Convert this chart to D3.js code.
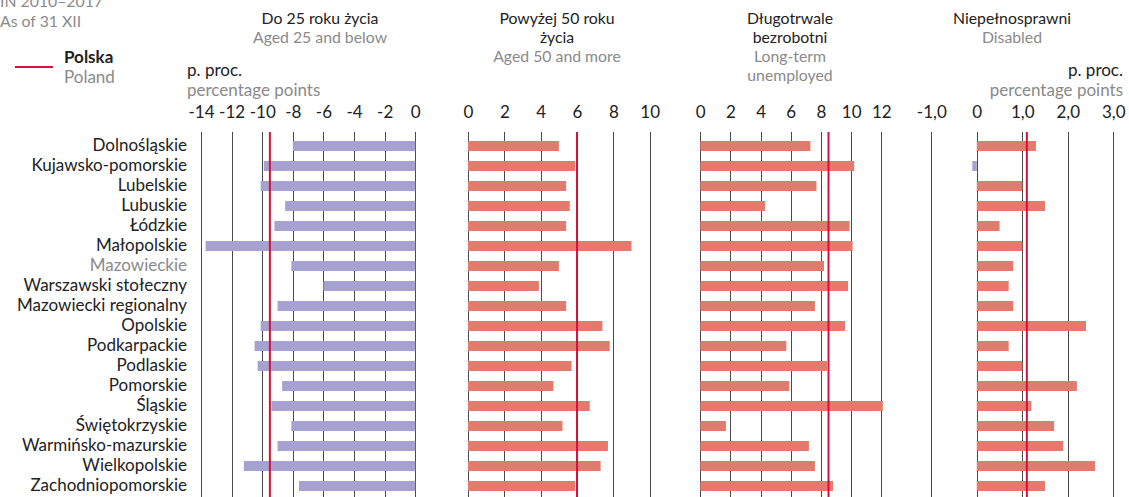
<!DOCTYPE html>
<html>
<head>
<meta charset="utf-8">
<script src="https://cdn.jsdelivr.net/npm/d3@7"></script>
<style>
  html, body { margin: 0; padding: 0; background: #fff; }
  svg { display: block; font-family: Lato, "Open Sans", sans-serif; }
</style>
</head>
<body>
<svg id="chart" width="1129" height="497"></svg>
<script>
const regions = ["Dolnośląskie","Kujawsko-pomorskie","Lubelskie","Lubuskie","Łódzkie","Małopolskie","Mazowieckie","Warszawski stołeczny","Mazowiecki regionalny","Opolskie","Podkarpackie","Podlaskie","Pomorskie","Śląskie","Świętokrzyskie","Warmińsko-mazurskie","Wielkopolskie","Zachodniopomorskie"];
const greyRegions = ["Mazowieckie"];

const aged25 = [-8.0,-9.9,-10.1,-8.5,-9.2,-13.7,-8.1,-6.0,-9.0,-10.1,-10.5,-10.3,-8.7,-9.4,-8.1,-9.0,-11.2,-7.6];
const aged50 = [5.0,5.9,5.4,5.6,5.4,9.0,5.0,3.9,5.4,7.4,7.8,5.7,4.7,6.7,5.2,7.7,7.3,5.9];
const longTerm = [7.3,10.2,7.7,4.3,9.9,10.1,8.2,9.8,7.6,9.6,5.7,8.4,5.9,12.1,1.7,7.2,7.6,8.8];
const disabled = [1.3,-0.1,1.0,1.5,0.5,1.0,0.8,0.7,0.8,2.4,0.7,1.0,2.2,1.2,1.7,1.9,2.6,1.5];
const polandValues = [-9.5, 6.0, 8.5, 1.1];

const ticks25 = [-14,-12,-10,-8,-6,-4,-2,0];
const ticks50 = [0,2,4,6,8,10];
const ticksLong = [0,2,4,6,8,10,12];
const ticksDis = [-1,0,1,2,3];

const titlesPl = [["Do 25 roku życia"],["Powyżej 50 roku","życia"],["Długotrwale","bezrobotni"],["Niepełnosprawni"]];
const titlesEn = [["Aged 25 and below"],["Aged 50 and more"],["Long-term","unemployed"],["Disabled"]];

const colNeg = "#a5a1d1";
const colPos = "#e27a6d";
const colRed = "#d2123b";
const colDark = "#222";
const colGrey = "#8a8a8a";
const fs = 17;
const fsTitle = 15.8;

const svg = d3.select("#chart");

const y = d3.scaleBand().domain(regions).range([136, 496]).paddingInner(0.5).paddingOuter(0.25);
const gridTop = 132, gridBottom = 497;

const panels = [
  {data: aged25, ticks: ticks25, scale: d3.scaleLinear().domain([-14,0]).range([201,415.3]), fmt: d => String(d), titleX: 320},
  {data: aged50, ticks: ticks50, scale: d3.scaleLinear().domain([0,10]).range([468,649.7]), fmt: d => String(d), titleX: 557},
  {data: longTerm, ticks: ticksLong, scale: d3.scaleLinear().domain([0,12]).range([700.3,881.3]), fmt: d => String(d), titleX: 790},
  {data: disabled, ticks: ticksDis, scale: d3.scaleLinear().domain([-1,3]).range([931.3,1113.3]), fmt: d => d === 0 ? "0" : d3.format(".1f")(d).replace(".", ",").replace("−", "-"), titleX: 1012}
];

// top-left note
svg.append("text").attr("x", 0).attr("y", 7).attr("font-size", fsTitle).attr("fill", colGrey).text("IN 2010–2017");
svg.append("text").attr("x", 0).attr("y", 27).attr("font-size", fsTitle).attr("fill", colGrey).text("As of 31 XII");

// legend
svg.append("line").attr("x1", 15).attr("x2", 53).attr("y1", 67).attr("y2", 67).attr("stroke", colRed).attr("stroke-width", 2);
svg.append("text").attr("x", 64).attr("y", 63).attr("font-size", fs).attr("font-weight", "bold").attr("fill", colDark).text("Polska");
svg.append("text").attr("x", 64).attr("y", 83).attr("font-size", fs).attr("fill", colGrey).text("Poland");

// unit labels
svg.append("text").attr("x", 187).attr("y", 76).attr("font-size", fs).attr("fill", colDark).text("p. proc.");
svg.append("text").attr("x", 187).attr("y", 96).attr("font-size", fs).attr("fill", colGrey).text("percentage points");
svg.append("text").attr("x", 1123).attr("y", 76).attr("font-size", fs).attr("text-anchor", "end").attr("fill", colDark).text("p. proc.");
svg.append("text").attr("x", 1123).attr("y", 96).attr("font-size", fs).attr("text-anchor", "end").attr("fill", colGrey).text("percentage points");

// region labels
svg.append("g").selectAll("text").data(regions).join("text")
  .attr("x", 187)
  .attr("y", d => y(d) + y.bandwidth() / 2)
  .attr("dy", "0.3em")
  .attr("text-anchor", "end")
  .attr("font-size", fs)
  .attr("fill", d => greyRegions.includes(d) ? colGrey : colDark)
  .text(d => d);

panels.forEach((p, i) => {
  const g = svg.append("g");
  const x = p.scale;
  // titles
  let ty = 24;
  titlesPl[i].forEach(t => {
    g.append("text").attr("x", p.titleX).attr("y", ty).attr("text-anchor", "middle").attr("font-size", fsTitle).attr("fill", colDark).text(t);
    ty += 19;
  });
  titlesEn[i].forEach(t => {
    g.append("text").attr("x", p.titleX).attr("y", ty).attr("text-anchor", "middle").attr("font-size", fsTitle).attr("fill", colGrey).text(t);
    ty += 19;
  });
  // axis tick labels
  const axis = d3.axisTop(x).tickValues(p.ticks).tickFormat(p.fmt).tickSize(0).tickPadding(0);
  const ag = g.append("g").attr("transform", "translate(0,118)").call(axis);
  ag.select(".domain").remove();
  ag.selectAll("text").attr("font-size", fs).attr("fill", colDark).attr("font-family", "Lato, 'Open Sans', sans-serif").attr("dy", 0);
  // gridlines
  g.append("g").selectAll("line").data(p.ticks).join("line")
    .attr("x1", d => Math.round(x(d)) + 0.5).attr("x2", d => Math.round(x(d)) + 0.5)
    .attr("y1", gridTop).attr("y2", gridBottom)
    .attr("stroke", "#4a4a4a").attr("stroke-width", 1);
  // bars
  g.append("g").selectAll("rect").data(p.data).join("rect")
    .attr("x", d => x(Math.min(0, d)))
    .attr("width", d => Math.abs(x(d) - x(0)))
    .attr("y", (d, j) => y(regions[j]))
    .attr("height", y.bandwidth())
    .attr("fill", d => d < 0 ? colNeg : colPos);
  // Poland line
  g.append("line")
    .attr("x1", x(polandValues[i])).attr("x2", x(polandValues[i]))
    .attr("y1", gridTop).attr("y2", gridBottom)
    .attr("stroke", colRed).attr("stroke-width", 2);
});
</script>
</body>
</html>
